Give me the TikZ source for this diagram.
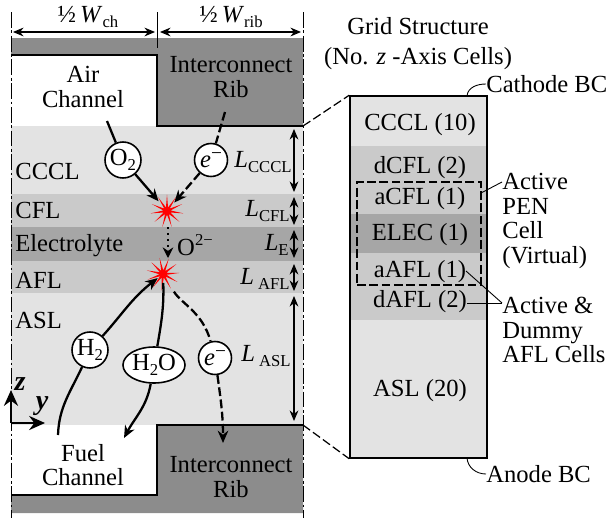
\documentclass[tikz,border=0pt]{standalone}
\usepackage{fontspec}
\setmainfont{Liberation Serif}
\usetikzlibrary{shapes.geometric}
\usetikzlibrary{arrows.meta}

\definecolor{ribgray}{HTML}{8C8C8C}
\definecolor{lightlayer}{HTML}{E3E3E3}
\definecolor{midlayer}{HTML}{CACACA}
\definecolor{darklayer}{HTML}{A6A6A6}

\newcommand{\lowtxt}[1]{\raisebox{-0.22em}{\fontsize{9.5}{9.5}\selectfont #1}}
\newcommand{\elec}{\textit{e}\raisebox{0.35em}{\fontsize{11}{11}\selectfont −}}

\tikzset{
  txt/.style={font=\fontsize{14}{14}\selectfont, inner sep=0pt, align=center},
  ltxt/.style={txt, anchor=west, align=left},
  species/.style={draw, fill=white, line width=0.9pt, circle, inner sep=0pt, minimum size=0.72cm, font=\fontsize{14}{14}\selectfont},
  spark/.style={star, star points=11, star point ratio=4.5, fill=red, inner sep=0pt, minimum size=0.66cm},
  flow/.style={line width=1.3pt, -{Stealth[length=7pt, width=6pt]}},
  plainflow/.style={line width=1.3pt},
  span/.style={line width=0.6pt, {Stealth[length=6pt, width=5pt]}-{Stealth[length=6pt, width=5pt]}},
  bound/.style={line width=0.5pt, dash pattern=on 9pt off 1.5pt on 1.5pt off 1.5pt},
  lead/.style={line width=0.5pt},
  longdash/.style={dash pattern=on 5pt off 2pt}
}

\begin{document}
\begin{tikzpicture}[x=0.02cm, y=-0.02cm]
\useasboundingbox (0, 0) rectangle (609, 518);

% cell layers
\foreach \ya/\yb/\col in {126/194/lightlayer, 194/227/midlayer, 227/261/darklayer, 261/293/midlayer, 293/425/lightlayer}
  \fill[\col] (11, \ya) rectangle (303, \yb);

% interconnects
\fill[ribgray] (11, 38) -- (303, 38) -- (303, 126) -- (157, 126) -- (157, 55) -- (11, 55) -- cycle;
\fill[ribgray] (11, 513) -- (303, 513) -- (303, 425) -- (157, 425) -- (157, 495) -- (11, 495) -- cycle;
\draw[line width=0.9pt] (11, 55) -- (157, 55) -- (157, 126) -- (303, 126);
\draw[line width=0.9pt] (11, 495) -- (157, 495) -- (157, 425) -- (303, 425);

% symmetry lines
\draw[bound] (11, 12) -- (11, 518);
\draw[bound] (303, 12) -- (303, 518);
\draw[line width=0.5pt] (157, 12) -- (157, 48);

% widths
\coordinate (wa) at (13, 32);
\coordinate (wb) at (155, 32);
\coordinate (wc) at (160, 32);
\coordinate (wd) at (301, 32);
\draw[span] (wa) -- (wb);
\draw[span] (wc) -- (wd);
\node[txt] (wch) at (88, 17) {½\,\textit{W}\lowtxt{ch}};
\node[txt] (wrib) at (231, 17) {½\,\textit{W}\lowtxt{rib}};

% layer names
\node[ltxt] (cccl) at (15, 171) {CCCL};
\node[ltxt] (cfl) at (15, 210) {CFL};
\node[ltxt] (elyte) at (15, 246) {Electrolyte};
\node[ltxt] (afl) at (15, 280) {AFL};
\node[ltxt] (asl) at (15, 320) {ASL};
\node[txt] (air) at (83, 87) {Air\\Channel};
\node[txt] (fuel) at (83, 465) {Fuel\\Channel};
\node[txt] (ribtop) at (231, 77) {Interconnect\\Rib};
\node[txt] (ribbot) at (231, 477) {Interconnect\\Rib};

% thicknesses
\foreach \name/\ya/\yb in {lc/129/192, lf/197/225, le/230/258, la/264/291, ls/296/421}
{
  \coordinate (\name a) at (294, \ya);
  \coordinate (\name b) at (294, \yb);
  \draw[span] (\name a) -- (\name b);
}
\node[txt, anchor=east] (lcccl) at (292, 162) {\textit{L}\lowtxt{CCCL}};
\node[txt, anchor=east] (lcfl) at (290, 211) {\textit{L}\lowtxt{CFL}};
\node[txt, anchor=east] (lelec) at (289, 245) {\textit{L}\lowtxt{E}};
\node[txt, anchor=east] (lafl) at (290, 279) {\textit{L}\,\lowtxt{AFL}};
\node[txt, anchor=east] (lasl) at (291, 356) {\textit{L}\,\lowtxt{ASL}};

% reactions
\node[spark] (cathspark) at (167, 211) {};
\node[spark, rotate=12] (anspark) at (163, 274) {};

\node[species] (otwo) at (123, 160) {O\lowtxt{2}};
\node[species, minimum size=0.66cm] (ecath) at (211, 160) {\elec};
\node[species] (htwo) at (90, 350) {H\lowtxt{2}};
\node[species, ellipse, minimum width=1.12cm, minimum height=0.72cm] (hwater) at (154, 365) {H\lowtxt{2}O};
\node[species, minimum size=0.66cm] (eanode) at (215, 358) {\elec};

\coordinate (airin) at (107, 121);
\coordinate (ribin) at (225, 112);
\coordinate (fuelin) at (58, 435);
\coordinate (waterout) at (124, 438);
\coordinate (ribout) at (223, 443);
\coordinate (dota) at (168, 227);
\coordinate (dotb) at (168, 258);

\draw[plainflow] (airin) -- (otwo);
\draw[flow, shorten >=3pt] (otwo) -- (cathspark);
\draw[plainflow, longdash] (ribin) -- (ecath);
\draw[flow, longdash, shorten >=2pt] (ecath) -- (cathspark);
\draw[line width=1.4pt, dotted, -{Stealth[length=6pt, width=6pt]}] (dota) -- (dotb);
\node[txt] (otwominus) at (195, 245) {O\raisebox{0.4em}{\fontsize{9.5}{9.5}\selectfont 2−}};

\draw[plainflow] (fuelin) to[out=88, in=-115] (htwo);
\draw[flow, shorten >=1pt] (htwo) to[out=48, in=-145] (anspark);
\draw[plainflow] (anspark) to[out=-90, in=80] (hwater);
\draw[flow] (hwater) to[out=-100, in=62] (waterout);
\draw[plainflow, longdash, shorten <=5pt] (anspark) to[out=-60, in=105] (eanode);
\draw[flow, longdash] (eanode) to[out=-82, in=90] (ribout);

% axes
\coordinate (orig) at (11, 423);
\coordinate (zend) at (11, 390);
\coordinate (yend) at (45, 423);
\draw[line width=1.4pt, -{Stealth[length=9pt, width=8pt]}] (orig) -- (zend);
\draw[line width=1.4pt, -{Stealth[length=9pt, width=8pt]}] (orig) -- (yend);
\node[txt, font=\fontsize{16}{16}\selectfont\bfseries\itshape] (zlabel) at (20, 384) {z};
\node[txt, font=\fontsize{16}{16}\selectfont\bfseries\itshape] (ylabel) at (42, 406) {y};

% grid column
\foreach \ya/\yb/\col in {96/146/lightlayer, 146/214/midlayer, 214/253/darklayer, 253/320/midlayer, 320/458/lightlayer}
  \fill[\col] (350, \ya) rectangle (487, \yb);
\node[draw, line width=0.9pt, minimum width=2.74cm, minimum height=7.24cm, inner sep=0pt] (grid) at (418.5, 277) {};
\node[draw, longdash, line width=0.6pt, minimum width=2.48cm, minimum height=2.06cm, inner sep=0pt] (pen) at (419, 233.5) {};

\draw[line width=0.7pt, longdash] (303, 126) -- (grid.north west);
\draw[line width=0.7pt, longdash] (303, 425) -- (grid.south west);

\node[txt] (gridtitle) at (418, 44) {Grid Structure\\[3pt](No. \textit{z} -Axis Cells)};
\node[txt] (gcccl) at (420, 125) {CCCL (10)};
\node[txt] (gdcfl) at (420, 168) {dCFL (2)};
\node[txt] (gacfl) at (420, 199) {aCFL (1)};
\node[txt] (gelec) at (420, 235) {ELEC (1)};
\node[txt] (gaafl) at (420, 272) {aAFL (1)};
\node[txt] (gdafl) at (420, 302) {dAFL (2)};
\node[txt] (gasl) at (420, 391) {ASL (20)};

\node[ltxt] (cathbc) at (486, 84) {Cathode BC};
\node[ltxt] (anbc) at (486, 474) {Anode BC};
\node[ltxt] (activepen) at (502, 221) {Active\\PEN\\Cell\\(Virtual)};
\node[ltxt] (dummy) at (502, 330) {Active \&\\Dummy\\AFL Cells};

\coordinate (cathtick) at (467, 96);
\coordinate (antick) at (467, 458);
\coordinate (pentick) at (481, 193);
\coordinate (pentip) at (502, 182);
\coordinate (aaflend) at (466, 271);
\coordinate (daflend) at (467, 303);
\coordinate (dummytip) at (502, 303);
\draw[lead] (cathtick) to[out=85, in=180] (cathbc.west);
\draw[lead] (antick) to[out=-85, in=180] (anbc.west);
\draw[lead] (pentick) -- (pentip);
\draw[lead] (aaflend) -- (dummytip);
\draw[lead] (daflend) -- (dummytip);

\end{tikzpicture}
\end{document}
